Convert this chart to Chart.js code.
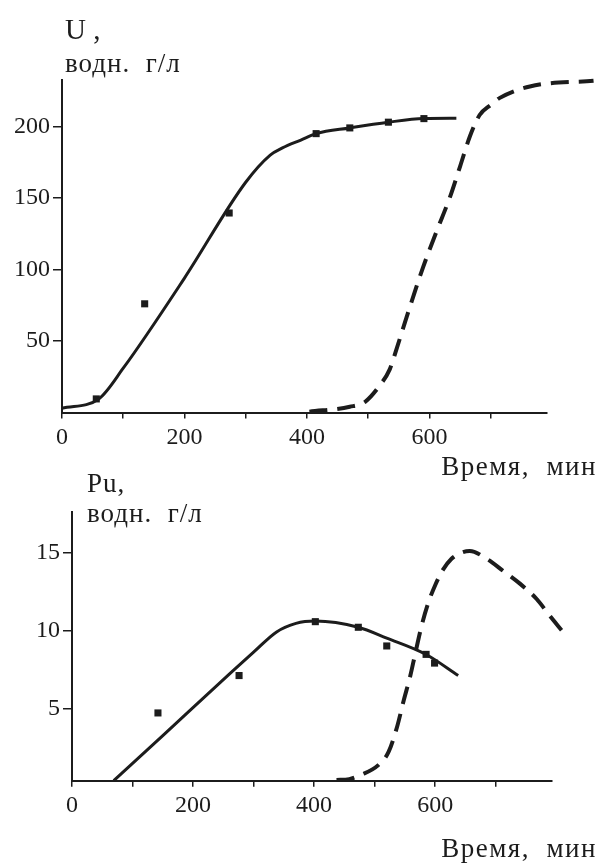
<!DOCTYPE html>
<html>
<head>
<meta charset="utf-8">
<script src="https://cdn.jsdelivr.net/npm/chart.js@4.4.1/dist/chart.umd.min.js"></script>
<style>
    body { margin: 0; background: #ffffff; }
    #wrap { position: relative; width: 598px; height: 866px; overflow: hidden; }
    canvas { position: absolute; left: 0; }
</style>
</head>
<body>
<div id="wrap">
    <canvas id="ChartU" width="598" height="500" style="top:0px"></canvas>
    <canvas id="ChartPu" width="598" height="426" style="top:440px"></canvas>
</div>
<script>
// ---- upper panel: U, g/l vs time, min ----
const uFitTime  = [0, 60, 100, 200, 300, 340, 360, 390, 415, 470, 533, 591, 644];
const uFit      = [3, 9.5, 31, 94, 161, 180, 185, 190.5, 195, 199, 203, 205.5, 205.7];
const uDashTime = [404, 470, 495, 519, 535, 546, 563, 590, 612, 633, 650, 666, 682, 700, 715, 764, 868];
const uDash     = [0.6, 4, 7.5, 19, 30, 44, 67, 102, 127, 150, 172, 193, 208, 215, 220, 228, 232];
const uPtTime   = [56, 135, 273, 415, 470, 533, 591];
const uPt       = [9.5, 76, 139.5, 195, 199, 203, 205.5];
const uTicks    = [50, 100, 150, 200];

// ---- lower panel: Pu, g/l vs time, min ----
const puFitTime  = [69, 150, 263, 300, 338, 370, 402, 473, 520, 585, 638];
const puFit      = [0.35, 3.25, 7.3, 8.6, 9.9, 10.45, 10.6, 10.2, 9.5, 8.45, 7.1];
const puDashTime = [437, 458, 476, 506, 523, 537, 548, 559, 567, 577, 588, 600, 613, 627, 644, 657, 685, 713, 740, 768, 790, 809];
const puDash     = [0.4, 0.45, 0.7, 1.35, 2.2, 3.8, 5.5, 7.1, 8.5, 10.2, 11.7, 12.9, 13.9, 14.6, 15.0, 15.1, 14.6, 13.8, 13.0, 12.0, 10.9, 10.0];
const puPtTime   = [142, 276, 402, 473, 520, 585, 599];
const puPt       = [4.7, 7.1, 10.56, 10.2, 9.0, 8.46, 7.9];
const puTicks    = [5, 10, 15];

const timeTicks = [0, 100, 200, 300, 400, 500, 600, 700];

const ink = '#1c1c1c';
const serif = "'Liberation Serif', 'DejaVu Serif', serif";

function toXY(xs, ys) {
    return xs.map((x, i) => ({ x: x, y: ys[i] }));
}

// draws the axis captions of a panel
function captions(items) {
    return {
        id: 'captions',
        afterDraw(chart) {
            const c = chart.ctx;
            c.save();
            c.fillStyle = ink;
            items.forEach(t => {
                c.font = t.size + 'px ' + serif;
                c.letterSpacing = (t.spacing || 0) + 'px';
                c.textAlign = t.align || 'left';
                c.fillText(t.text, t.x, t.y);
            });
            c.restore();
        }
    };
}

function makePanel(canvasId, cfg) {
    const ctx = document.getElementById(canvasId).getContext('2d');
    return new Chart(ctx, {
        type: 'line',
        data: {
            datasets: [
                {
                    data: toXY(cfg.fitTime, cfg.fit),
                    borderColor: ink,
                    borderWidth: 3,
                    pointRadius: 0,
                    cubicInterpolationMode: 'monotone',
                    clip: false
                },
                {
                    data: toXY(cfg.dashTime, cfg.dash),
                    borderColor: ink,
                    borderWidth: 4,
                    borderDash: [18, 10],
                    pointRadius: 0,
                    cubicInterpolationMode: 'monotone',
                    clip: false
                },
                {
                    data: toXY(cfg.ptTime, cfg.pt),
                    showLine: false,
                    pointStyle: 'rect',
                    pointRadius: 5,
                    pointBackgroundColor: ink,
                    pointBorderColor: ink,
                    pointBorderWidth: 0,
                    clip: false
                }
            ]
        },
        options: {
            responsive: false,
            animation: false,
            events: [],
            layout: { padding: cfg.padding },
            plugins: { legend: { display: false }, tooltip: { enabled: false } },
            scales: {
                x: {
                    type: 'linear',
                    min: 0,
                    max: cfg.xMax,
                    afterBuildTicks: s => { s.ticks = timeTicks.map(v => ({ value: v })); },
                    afterFit: s => { s.height = cfg.xAxisHeight; },
                    grid: { drawOnChartArea: false, drawTicks: true, tickLength: 6, color: ink, lineWidth: 1.5 },
                    border: { display: true, color: ink, width: 2 },
                    ticks: {
                        autoSkip: false,
                        maxRotation: 0,
                        padding: 5,
                        color: ink,
                        font: { family: serif, size: 24 },
                        callback: v => (v % 200 === 0 ? String(v) : '')
                    }
                },
                y: {
                    type: 'linear',
                    min: cfg.yMin,
                    max: cfg.yMax,
                    afterBuildTicks: s => { s.ticks = cfg.yTicks.map(v => ({ value: v })); },
                    afterFit: s => { s.width = cfg.yAxisWidth; },
                    grid: { drawOnChartArea: false, drawTicks: true, tickLength: 9, color: ink, lineWidth: 1.5 },
                    border: { display: true, color: ink, width: 2 },
                    ticks: {
                        padding: 3,
                        color: ink,
                        font: { family: serif, size: 24 }
                    }
                }
            }
        },
        plugins: [captions(cfg.captions)]
    });
}

makePanel('ChartU', {
    fitTime: uFitTime, fit: uFit,
    dashTime: uDashTime, dash: uDash,
    ptTime: uPtTime, pt: uPt,
    yTicks: uTicks, yMin: 0, yMax: 232.5, xMax: 792,
    padding: { top: 80, left: 0, right: 51, bottom: 42.5 },
    xAxisHeight: 45, yAxisWidth: 62,
    captions: [
        { text: 'U ,', x: 65, y: 39, size: 29 },
        { text: 'водн.  г/л', x: 65, y: 72, size: 27, spacing: 1 },
        { text: 'Время,  мин', x: 597, y: 475, size: 27, spacing: 1.5, align: 'right' }
    ]
});

makePanel('ChartPu', {
    fitTime: puFitTime, fit: puFit,
    dashTime: puDashTime, dash: puDash,
    ptTime: puPtTime, pt: puPt,
    yTicks: puTicks, yMin: 0.35, yMax: 17.6, xMax: 793,
    padding: { top: 72, left: 0, right: 46, bottom: 40.3 },
    xAxisHeight: 45, yAxisWidth: 72,
    captions: [
        { text: 'Pu,', x: 87, y: 52, size: 27, spacing: 1 },
        { text: 'водн.  г/л', x: 87, y: 82, size: 27, spacing: 1 },
        { text: 'Время,  мин', x: 597, y: 417, size: 27, spacing: 1.5, align: 'right' }
    ]
});
</script>
</body>
</html>
